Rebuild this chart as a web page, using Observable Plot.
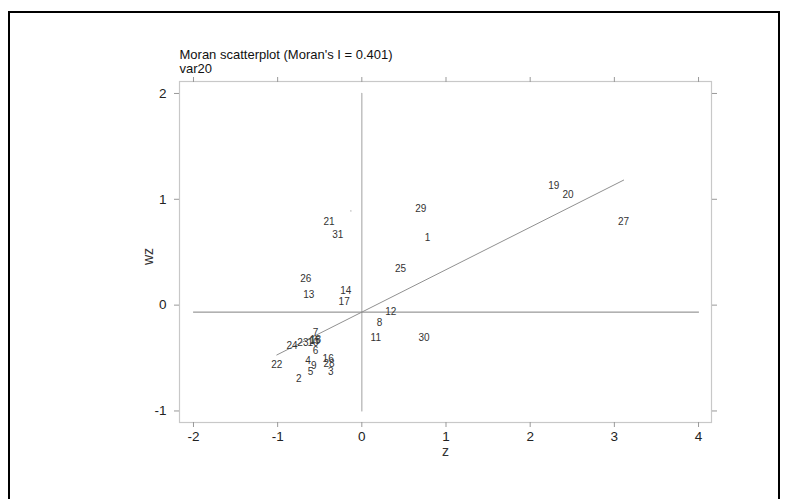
<!DOCTYPE html>
<html>
<head>
<meta charset="utf-8">
<script src="https://cdn.jsdelivr.net/npm/d3@7"></script>
<script src="https://cdn.jsdelivr.net/npm/@observablehq/plot@0.6"></script>
<style>
  html, body { margin: 0; padding: 0; background: #fff; }
  #wrap { position: relative; width: 787px; height: 499px; overflow: hidden; }
  #border { position: absolute; left: 8px; top: 11px; width: 772px; height: 520px; border: 2px solid #000; box-sizing: border-box; }
  #chart { position: absolute; left: 0; top: 0; }
</style>
</head>
<body>
<div id="wrap"><div id="border"></div><div id="chart"></div></div>
<script>
// Region labels, standardized values z and spatial lag wz
const ids = ["1","2","3","4","5","6","7","8","9","10","11","12","13","14","15","16","17","18","19","20","21","22","23","24","25","26","27","28","29","30","31"];
const zVals  = [0.78,-0.75,-0.37,-0.64,-0.61,-0.55,-0.55,0.21,-0.57,-0.58,0.166,0.345,-0.63,-0.19,-0.56,-0.40,-0.21,-0.55,2.28,2.45,-0.39,-1.01,-0.70,-0.83,0.46,-0.665,3.11,-0.39,0.70,0.74,-0.285];
const wzVals = [0.633,-0.70,-0.63,-0.53,-0.63,-0.43,-0.265,-0.17,-0.57,-0.36,-0.31,-0.066,0.095,0.14,-0.34,-0.51,0.03,-0.33,1.125,1.04,0.785,-0.56,-0.36,-0.38,0.34,0.245,0.785,-0.55,0.907,-0.31,0.66];
// an unlabeled point
const extraZ = [-0.13];
const extraWz = [0.89];

const moranI = 0.401;
const wzMean = -0.066;
const xTicks = [-2,-1,0,1,2,3,4];
const yTicks = [-1,0,1,2];
const titleText = "Moran scatterplot (Moran's I = 0.401)";
const subtitleText = "var20";
const xLabel = "z";
const yLabel = "wz";

const pts = ids.map((id, i) => ({id, z: zVals[i], wz: wzVals[i]}));
const extra = extraZ.map((z, i) => ({z, wz: extraWz[i]}));
const zMin = d3.min(zVals), zMax = d3.max(zVals);
const fit = [zMin, zMax].map(z => ({z, wz: wzMean + moranI * z}));
const hLine = [{z: xTicks[0], wz: wzMean}, {z: xTicks[xTicks.length-1], wz: wzMean}];
const vLine = [{z: 0, wz: yTicks[0]}, {z: 0, wz: yTicks[yTicks.length-1]}];

const font = "Liberation Sans, Arial, Helvetica, sans-serif";
const tickColor = "#222";
const fmt = d => String(d);

const plot = Plot.plot({
  width: 787,
  height: 499,
  marginLeft: 179,
  marginRight: 76,
  marginTop: 81,
  marginBottom: 77,
  style: {fontFamily: font, background: "transparent", overflow: "visible"},
  x: {domain: [-2.166, 4.154]},
  y: {domain: [-1.109, 2.113]},
  marks: [
    Plot.frame({stroke: "#c8c8c8", strokeWidth: 1.2}),
    Plot.axisX(xTicks, {anchor: "bottom", tickSize: 5, tickPadding: 4, fontSize: 13.5, color: tickColor, stroke: "#999", tickFormat: fmt, label: null}),
    Plot.axisX(xTicks, {anchor: "top", tickSize: 5, tickFormat: () => "", stroke: "#999", label: null}),
    Plot.axisY(yTicks, {anchor: "left", tickSize: 5, tickPadding: 8, fontSize: 13.5, color: tickColor, stroke: "#999", tickFormat: fmt, label: null}),
    Plot.axisY(yTicks, {anchor: "right", tickSize: 5, tickFormat: () => "", stroke: "#999", label: null}),
    Plot.line(vLine, {x: "z", y: "wz", stroke: "#b0b0b0", strokeWidth: 1.2}),
    Plot.line(hLine, {x: "z", y: "wz", stroke: "#808080", strokeWidth: 1}),
    Plot.line(fit, {x: "z", y: "wz", stroke: "#909090", strokeWidth: 1}),
    Plot.dot(extra, {x: "z", y: "wz", r: 0.6, fill: "#999", stroke: null}),
    Plot.text(pts, {x: "z", y: "wz", text: "id", fontSize: 10, fill: "#333"}),
    Plot.text([titleText], {frameAnchor: "top-left", dy: -32, text: d => d, textAnchor: "start", fontSize: 13, fill: "#111"}),
    Plot.text([subtitleText], {frameAnchor: "top-left", dy: -18, text: d => d, textAnchor: "start", fontSize: 13, fill: "#111"}),
    Plot.text([xLabel], {frameAnchor: "bottom", dy: 33, text: d => d, fontSize: 14, fill: "#333"}),
    Plot.text([yLabel], {frameAnchor: "left", dx: -31, dy: 13, rotate: -90, text: d => d, fontSize: 14, fill: "#333"})
  ]
});
document.getElementById("chart").appendChild(plot);
</script>
</body>
</html>
